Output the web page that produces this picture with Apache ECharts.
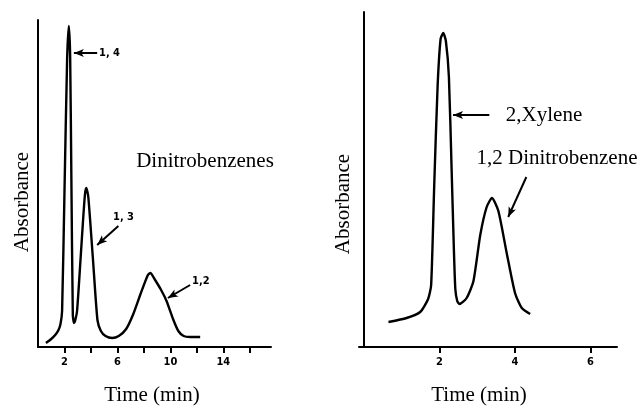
<!DOCTYPE html>
<html>
<head>
<meta charset="utf-8">
<script src="https://cdn.jsdelivr.net/npm/echarts@6/dist/echarts.min.js"></script>
<style>
  html, body { margin: 0; padding: 0; background: #fff; }
  #chart { width: 644px; height: 408px; }
</style>
</head>
<body>
<div id="chart"></div>
<script>
// left panel: dinitrobenzenes, [time (min), absorbance]
const dnbTrace = [
  [0.6, 4], [1.0, 8], [1.3, 12], [1.55, 17], [1.7, 23], [1.82, 36], [2.0, 155],
  [2.2, 288], [2.33, 321], [2.43, 290], [2.52, 170], [2.63, 32], [2.72, 24],
  [2.8, 26], [2.95, 36], [3.2, 85], [3.4, 126], [3.55, 153], [3.65, 159],
  [3.8, 150], [4.15, 88], [4.49, 27], [4.75, 16], [5.1, 11], [5.6, 9], [6.1, 11],
  [6.66, 18], [7.2, 33], [7.8, 55], [8.3, 72], [8.49, 74], [8.8, 68], [9.3, 57],
  [9.71, 46], [10.2, 28], [10.6, 16], [11.0, 11], [11.49, 10], [12.25, 10]
]
// right panel: xylene + 1,2 dinitrobenzene
const xyleneTrace = [
  [0.65, 25], [1.13, 29], [1.49, 35], [1.7, 48], [1.78, 62], [1.86, 160],
  [1.95, 260], [2.03, 308], [2.1, 314], [2.17, 306], [2.25, 270], [2.32, 180],
  [2.38, 100], [2.42, 58], [2.47, 46], [2.53, 43], [2.72, 49], [2.9, 66],
  [3.08, 112], [3.25, 140], [3.39, 149], [3.56, 136], [3.78, 94], [4.0, 54],
  [4.18, 39], [4.4, 33]
]
const leftTicks = [2, 4, 6, 8, 10, 12, 14, 16]
const leftLabels = [2, 6, 10, 14]
const rightTicks = [2, 4, 6]
// arrows [from, to] in data units
const leftArrows = [
  [[4.47, 294], [2.71, 294]],
  [[6.07, 121], [4.47, 102]],
  [[11.49, 62], [9.81, 49]]
]
const rightArrows = [
  [[3.32, 232], [2.36, 232]],
  [[4.30, 170], [3.82, 130]]
]

const chart = echarts.init(document.getElementById('chart'), null, { renderer: 'canvas' })

const serif = 'Liberation Serif, Times New Roman, serif'
const tickFont = 'DejaVu Sans Condensed, DejaVu Sans, sans-serif'

const xAxisBase = (idx, min, max, ticks, labels) => ({
  type: 'value',
  gridIndex: idx,
  min: min,
  max: max,
  axisLine: { lineStyle: { color: '#000', width: 2 } },
  axisTick: { customValues: ticks, length: 6, lineStyle: { color: '#000', width: 2 } },
  axisLabel: {
    customValues: labels,
    color: '#000',
    fontFamily: tickFont,
    fontWeight: 'bold',
    fontSize: 11,
    margin: 10
  },
  splitLine: { show: false }
})

const yAxisBase = (idx, max) => ({
  type: 'value',
  gridIndex: idx,
  min: 0,
  max: max,
  axisLine: { show: true, lineStyle: { color: '#000', width: 2 } },
  axisTick: { show: false },
  axisLabel: { show: false },
  splitLine: { show: false }
})

const arrowLines = (arrows) => arrows.map(a => [
  { coord: a[0], symbol: 'none' },
  { coord: a[1], symbol: 'arrow', symbolSize: [6, 10] }
])

const traceSeries = (idx, data, arrows) => ({
  type: 'line',
  xAxisIndex: idx,
  yAxisIndex: idx,
  data: data,
  smooth: 0.2,
  showSymbol: false,
  lineStyle: { color: '#000', width: 2.4, join: 'round' },
  silent: true,
  animation: false,
  markLine: {
    silent: true,
    animation: false,
    label: { show: false },
    lineStyle: { color: '#000', width: 2, type: 'solid' },
    data: arrowLines(arrows)
  }
})

const txt = (x, y, text, size, extra) => ({
  type: 'text',
  x: x,
  y: y,
  style: Object.assign({
    text: text,
    fill: '#000',
    font: size + 'px ' + serif,
    textAlign: 'center',
    textVerticalAlign: 'middle'
  }, extra || {})
})

const peakLabel = (x, y, text) => ({
  type: 'text',
  x: x,
  y: y,
  style: {
    text: text,
    fill: '#000',
    font: 'bold 11px ' + tickFont,
    textAlign: 'left',
    textVerticalAlign: 'middle'
  }
})

chart.setOption({
  backgroundColor: '#fff',
  animation: false,
  grid: [
    { left: 38, top: 20, width: 233, height: 327 },
    { left: 359, top: 12, width: 258, height: 335 }
  ],
  xAxis: [
    xAxisBase(0, 0, 17.6, leftTicks, leftLabels),
    xAxisBase(1, -0.13, 6.7, rightTicks, rightTicks)
  ],
  yAxis: [
    yAxisBase(0, 327),
    yAxisBase(1, 335)
  ],
  series: [
    traceSeries(0, dnbTrace, leftArrows),
    traceSeries(1, xyleneTrace, rightArrows)
  ],
  graphic: [
    Object.assign(txt(22, 202, 'Absorbance', 21), { rotation: Math.PI / 2 }),
    Object.assign(txt(343, 204, 'Absorbance', 21), { rotation: Math.PI / 2 }),
    txt(152, 395, 'Time (min)', 21),
    txt(479, 395, 'Time (min)', 21),
    txt(205, 161, 'Dinitrobenzenes', 21),
    txt(544, 115, '2,Xylene', 21),
    txt(557, 158, '1,2 Dinitrobenzene', 21),
    peakLabel(99, 53, '1, 4'),
    peakLabel(113, 217, '1, 3'),
    peakLabel(192, 281, '1,2')
  ]
})
</script>
</body>
</html>
